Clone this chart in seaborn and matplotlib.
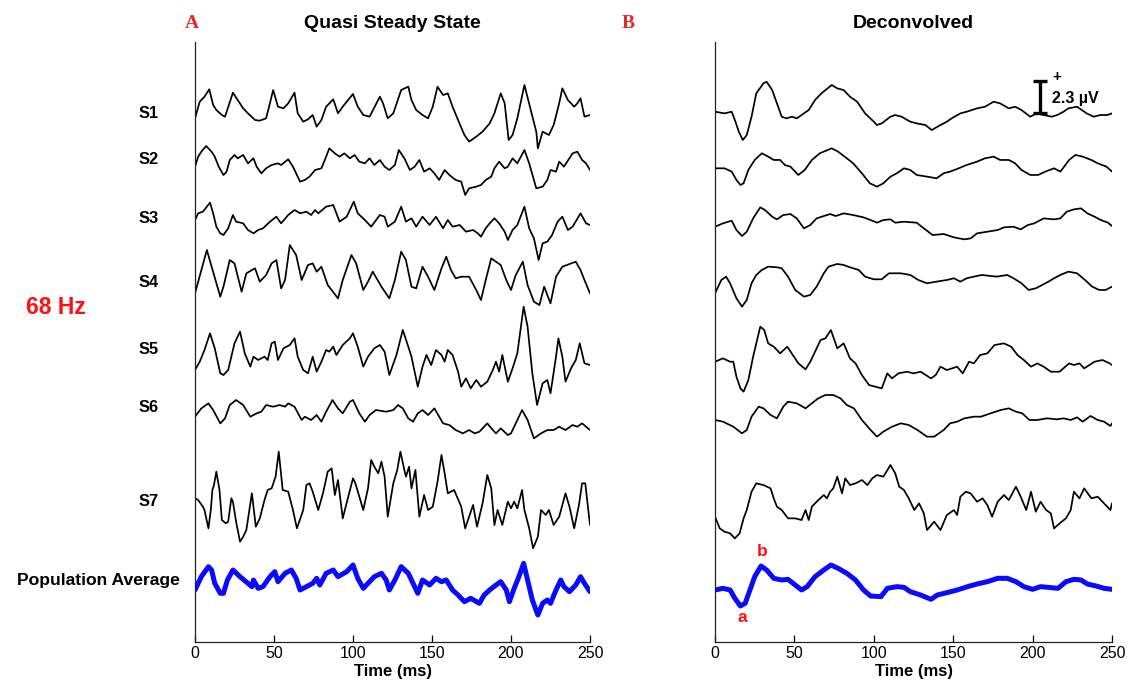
import numpy as np
import pandas as pd
import matplotlib
matplotlib.use("Agg")
import matplotlib.pyplot as plt
import seaborn as sns

# ---------------- data (time in ms, amplitude in arbitrary units; 97 units = 2.3 uV) -------------
# Panel A : Quasi Steady State
qs_s1_t = [0,3,6,9,11.5,13.5,17,19,24,27,30.5,33.5,38,41,45,49.5,52.5,56,59,63,65,68.5,71.5,74.5,77,80,83,87.5,90.5,93.5,
           100,103,106.5,110.5,117,119,122,125.5,130.5,135,137,140,144,147.5,150.5,153.5,157,160,163,166.5,
           170.5,173.5,178,182,186.5,189.5,193.5,196,198.5,201,204,208.5,212.5,216,217,220,224,227,230.5,232.5,
           236,240,242,244,246.5,250]
qs_s1_v = [-10,40,55,77,30,15,0,-5,67,45,20,5,-15,-17,-10,75,25,20,35,67,5,-20,-13,0,-35,-15,25,47,5,25,
           63,25,0,-5,55,35,-10,5,75,85,45,15,0,-10,25,85,60,65,25,-15,
           -60,-80,-65,-50,-25,5,65,35,-75,-60,-10,90,15,-50,-100,-50,-60,-30,35,80,
           45,25,35,50,-5,0]

qs_s2_t = [0,2,4,7,10.5,12.5,15,18,20,22,25,27,30.5,33.5,37,39,42,45,48.5,52.5,54.5,59,62,66.5,69.5,72.5,76,80,83,85,
           88.5,91.5,94.5,98,101,104,107.5,110.5,113.5,117,120,123,126.5,129,132.5,136,139,142,145,148.5,
           151.5,154.5,158,161,165,168.5,171,173.5,178,181,184,187.5,189.5,192.5,196,198,201,204,208.5,211.5,
           216,220,223,225,228.5,230.5,233.5,239,242,245,247.5,250]
qs_s2_v = [-11,19,34,51,34,19,-11,-36,-26,9,24,14,24,-1,14,-11,-31,-16,-6,-1,-6,11,-11,-56,-51,-41,-21,-16,19,44,
           29,19,29,14,24,4,-1,14,-6,9,-11,-21,-6,39,14,-21,-11,9,-26,-16,
           -31,-51,-21,-36,-51,-56,-96,-76,-71,-66,-51,-41,-16,4,-16,-11,14,-1,39,-1,
           -76,-71,-51,-21,-26,4,-11,29,34,9,-1,-21]

qs_s3_t = [0,2,5,9.5,11.5,13.5,16,18,21,24,26,30.5,33.5,37,40,43,47.5,51.5,54.5,59,63,66.5,70.5,73.5,76,78,83,87.5,91.5,96,
           100.5,103,107.5,111.5,117,120,122,126.5,130.5,133.5,137,140,144,148.5,152.5,157,160,163,167.5,171.5,
           176,179,181,184,186.5,189.5,192.5,196,198,201,204,208.5,211.5,214.5,217.5,220,223,226,229.5,232.5,
           236,239,244,247.5,250]
qs_s3_v = [0,20,25,52,20,-20,-40,-45,-25,15,-5,-10,-30,-40,-30,-25,-5,10,-10,15,30,20,25,15,30,20,40,45,-5,10,
           55,20,0,-20,15,10,-20,-5,40,-5,5,-20,10,-15,10,-25,0,-20,-15,-35,
           -30,-40,-50,-25,-10,5,-10,-35,-60,-30,-15,40,-25,-55,-120,-70,-65,-45,-5,10,
           -30,-20,20,-10,-15]

qs_s4_t = [0,7.5,16,18,22,25,29.5,32.5,36,38,41,45,48.5,51.5,54.5,57,60,64,67.5,71.5,74.5,77,80,84,90.5,93.5,99,102,106.5,109.5,
           112.5,118,123,126.5,130.5,133.5,137,140,144,147.5,151.5,156,159,162,165,168.5,173.5,178,181,184,
           187.5,190.5,193.5,197,200,203,207.5,210.5,214.5,218,221,225,228.5,232.5,241,244,246.5,250]
qs_s4_v = [-50,80,-60,-30,50,40,-45,10,20,25,-15,5,40,50,-35,-10,95,65,-10,35,40,15,30,-25,-65,-10,65,40,-40,-15,
           15,-30,-65,-10,75,50,-30,-35,30,0,-40,25,60,20,-5,0,0,-40,-70,-10,
           55,45,35,-10,-40,5,45,-25,-75,-85,-30,-80,0,30,45,20,-10,-50]

qs_s5_t = [0,3,6,9.5,12.5,16,18,21,25,28.5,31.5,35,37,40,44,46,48.5,50.5,52.5,56,60,63,65,68.5,71.5,74.5,77,80,83,85,
           87.5,89.5,93.5,98,100,103,106.5,109.5,113.5,117,120,123,127.5,131.5,135,137,141,144,146.5,149.5,
           152.5,156,158,160,163,166.5,168.5,171.5,174.5,178,181,185,188.5,190.5,192.5,194.5,198,201,204,208,
           210.5,213.5,216.5,220,223,225,228.5,230,232.5,234.5,238,241,243.5,246.5,250]
qs_s5_v = [0,25,60,110,65,-10,-15,0,80,115,50,10,40,30,40,30,80,85,30,65,75,95,40,0,-10,40,-5,25,60,55,
           70,45,75,95,110,70,10,40,65,75,55,-15,45,120,70,40,-50,10,45,15,
           60,45,25,60,45,-5,-50,-25,-55,-30,-50,-35,0,25,-5,45,-35,5,50,190,
           130,-10,-105,-40,-30,-70,40,95,40,-35,5,30,80,20,15]

qs_s6_t = [0,4,8.5,11.5,16,19,22,26,30.5,35,39,42,45,49.5,53.5,57,59,63,67.5,69.5,73.5,77,80,83,87,90.5,93.5,98,100,104,
           107.5,110.5,114.5,121,125.5,128.5,131.5,135,138,141,144,147.5,151.5,157,161,165,169.5,173.5,177,180,
           185,188.5,190.5,193.5,198,200,204,207,210.5,214.5,219,223,227,230.5,234.5,239,242,245,250]
qs_s6_v = [0,25,40,20,-20,-5,35,50,35,0,10,15,35,30,35,30,40,30,-10,0,-10,5,-15,15,50,25,10,45,50,10,
           -15,5,20,15,20,35,25,-5,-15,10,20,5,25,-20,-25,-40,-50,-40,-50,-45,
           -20,-40,-50,-35,-55,-50,-10,20,-10,-65,-50,-40,-40,-30,-40,-25,-30,-20,-40]

qs_s7_t = [0,2,5,6,8.5,10,11,12,13.5,15.5,17,19.5,21,23,24,26,28.5,30.5,32.5,36,38.5,41,44,46,48.5,51,53,55.5,59,62,
           64.5,68.5,70.5,72.5,74.5,78,81,84,86.5,88.5,90.5,93.5,97,100,101.5,106.5,109.5,111.5,113.5,116,
           118,120,122,125.5,128,130,132.5,133.5,135.5,137,139.5,142,145,147.5,150.5,153.5,156,158,160,164,
           168.5,171,173.5,176,178.5,182,185,187.5,189.5,191.5,194.5,198,200,202,204,207,208.5,211.5,214,217,
           219,222,224,227,230.5,234.5,237,240,243,245,247,250]
qs_s7_v = [5,0,-20,-30,-85,-30,30,45,85,30,-60,-70,-65,5,-5,-65,-125,-110,-90,20,-80,-55,0,30,35,70,145,30,25,-30,
           -85,-30,45,50,25,-30,20,85,95,15,60,-55,10,65,50,-30,35,120,100,80,
           115,70,-50,50,90,145,90,70,100,35,90,-50,15,-30,-20,55,135,80,20,30,
           -20,-85,-50,-15,-80,-10,75,35,-75,-30,-75,-5,-25,-5,-25,30,-30,-85,-145,-110,
           -30,-45,-30,-75,-50,20,-20,-85,-15,50,50,-75]

qs_avg_t = [0,4,8.5,10.5,12.5,16,18,20.5,24,28.5,33.5,36,37,40,43,47.5,50.5,52.5,57,61,64,66.5,70.5,74.5,77,79,83,87.5,90.5,96,
            100,103,106.5,109.5,113.5,118,121,123,126.5,130.5,135,138,141,144,148.5,152.5,156,159,163,166.5,
            170.5,174.5,180,183,186.5,190.5,193.5,197,199,202,205,208,210.5,213.5,217,220,223,225,228.5,231.5,
            233.5,237,241,244,246.5,250]
qs_avg_v = [0,40,70,60,20,-10,-10,30,60,40,20,10,30,5,10,40,55,25,50,60,35,0,10,20,35,15,50,60,40,55,
            75,35,5,20,40,50,30,0,30,70,50,20,-10,30,15,35,25,30,0,-15,
            -35,-25,-40,-15,0,15,25,0,-35,5,40,80,30,-30,-75,-40,-30,-40,0,30,
            10,-5,15,40,20,-5]

# Panel B : Deconvolved
dc_s1_t = [0,6,10.5,12.5,15,17.5,20,23,26,30.5,32.5,36,39,42,45,48.5,51.5,56,59,63,67,73.5,77,81,85,89.5,94.5,100,102,105,
           110.5,113.5,117.5,123,127,132.5,136.5,142,146,149,154.5,158.5,165,170,175.5,179.5,185,189,193,198.5,
           202.5,207,212,215.5,219.5,222.5,228,234,238.5,242.5,247,250]
dc_s1_v = [0,-5,0,-25,-60,-85,-70,-15,55,85,90,65,25,-15,-20,-15,-20,-5,5,35,55,80,70,65,45,30,-5,-30,-40,-35,
           -15,-10,-15,-30,-35,-40,-55,-40,-30,-20,-5,0,10,15,30,25,10,15,5,-15,
           -5,-10,-15,-10,0,10,15,-5,-15,-10,-10,-5]

dc_s2_t = [0,6,10.5,13.5,16,18,21,25,29.5,33.5,37,41,44,47.5,52.5,56.5,61,66,73.5,77.5,83,87,92.5,97.5,102,106,110.5,114.5,119,123,
           127,133.5,139.5,144,148,153.5,158.5,165,170,175.5,179.5,185,189,193,198.5,203.5,208,213.5,217.5,223,
           227,231.5,237,241,246.5,250]
dc_s2_v = [0,0,-10,-35,-50,-45,-5,25,45,35,25,25,10,5,-20,-5,25,45,60,50,30,15,-15,-45,-55,-45,-25,-15,0,-5,
           -20,-25,-30,-15,-10,0,10,20,30,35,25,25,15,-5,-20,-20,-10,0,-10,25,
           40,35,25,15,5,-10]

dc_s3_t = [0,5,10.5,13.5,17,20,24,28.5,31.5,36,39,43,47.5,51.5,56,60,64,68.5,72.5,76,81,87,93.5,98,102,106,110.5,113.5,119,127,
           131.5,137,144,150.5,157,161,165,171.5,178,182,188,192.5,197,201,207,213.5,217.5,221.5,226,230.5,
           234.5,239,243,247.5,250]
dc_s3_v = [0,10,18,-10,-28,-15,25,58,50,30,22,35,38,25,-5,5,25,32,38,32,40,35,28,20,12,20,22,12,15,12,
           -5,-25,-22,-32,-38,-35,-20,-15,-10,-2,0,-8,5,10,25,22,25,45,52,55,
           40,30,20,12,2]

dc_s4_t = [0,4,7,9.5,13.5,17,20,23,26,29.5,33.5,39,42,46,50.5,56,60,64,68.5,71.5,77,81,85,90.5,94.5,100,105,109.5,117,123,
           128,133.5,139.5,146,150.5,154.5,158.5,163,168,173.5,177.5,184,188,193,197.5,202,206,210,213.5,217.5,
           222.5,228,233,237.5,242,246,250]
dc_s4_v = [0,40,50,30,-15,-40,-20,30,55,70,80,78,75,50,10,-10,-5,20,60,80,88,85,78,70,50,42,42,60,60,55,
           40,30,35,40,45,35,45,50,55,52,50,55,45,30,10,15,25,35,45,55,
           65,60,40,20,10,10,20]

dc_s5_t = [0,5,9.5,11.5,13.5,16,18,21,24,28.5,31,33.5,37,41,45.5,49,52.5,57,60,64,66.5,69.5,73,77,81,85,88.5,92.5,97,101,
           105,108.5,111.5,115.5,121,125,129.5,136,139,142,146,152.5,156,160,163,167,171.5,176,182,186.5,
           190.5,194.5,199,203,207,211.5,217,223,226,229.5,232.5,239,244,248.5,250]
dc_s5_v = [0,10,0,0,-45,-80,-90,-55,15,105,95,55,45,25,45,20,-5,-23,0,40,65,70,95,40,55,10,-5,-40,-70,-75,
           -80,-35,-50,-35,-30,-35,-30,-50,-40,-15,-25,-15,-35,0,-5,20,25,50,55,45,
           20,5,-15,-5,-15,-30,-30,-5,-10,-5,-20,0,5,-5,-10]

dc_s6_t = [0,5,11.5,17,20,23,27.5,30.5,35,39,43,46,51.5,57,61,65,69.5,74.5,79,83,87.5,92.5,98,102,106,111.5,117,122,127.5,133.5,
           138,144,148,152.5,157,163,167.5,173.5,180,185,189.5,193.5,198,203,209,215.5,219.5,224,228,231.5,
           236.5,241,245,249,250]
dc_s6_v = [0,-5,-20,-40,-30,10,40,35,15,5,40,55,50,35,50,65,75,75,65,45,35,0,-30,-50,-35,-20,-10,-15,-30,-50,
           -50,-30,-10,-5,5,10,10,20,30,35,25,20,0,0,5,2,5,0,8,-5,
           12,0,-5,-18,-10]

dc_s7_t = [0,3,6,9.5,12.5,15.5,18,20,23,26,30.5,35,37,39,42,46,50.5,54.5,57,59,61,64,68.5,70.5,72.5,74.5,77,80,82,85,
           88.5,92.5,96,99,102,106,110.5,113.5,116,119,122,125.5,128.5,131.5,133.5,138,142,146,150.5,152.5,
           154.5,158,161,165,168.5,171.5,174.5,178,182,185,189.5,192.5,196,199,202,205,208.5,211.5,213.5,217,
           221,224,226,229.5,232.5,237,241,245,249,250]
dc_s7_v = [0,-35,-45,-50,-65,-50,-5,20,75,100,95,85,55,30,20,-5,-5,-10,20,-10,30,45,65,55,75,85,120,70,115,95,
           100,110,95,115,125,120,155,130,90,80,55,20,40,10,-40,-15,-40,5,20,5,
           60,75,70,45,55,35,0,45,65,50,90,60,20,75,15,45,20,10,-35,-20,
           -5,20,75,55,85,55,60,40,20,40]

dc_avg_t = [0,5,9.5,12.5,16,19,22,25,29,32.5,37,42,46,50.5,54.5,58,63,68.5,73,77.5,83,88.5,93.5,98,104.5,108.5,114.5,119,123,129.5,
            136,140,146,152.5,159,165,171.5,178,184,189.5,194.5,200,205,209.5,216,221,226,230.5,234.5,240,
            245,250]
dc_avg_v = [0,5,0,-25,-48,-40,0,40,72,60,35,30,32,15,0,10,40,60,75,65,50,30,0,-18,-20,5,10,8,-5,-15,
            -28,-15,-8,0,10,18,25,35,35,25,10,2,10,8,5,25,32,30,18,12,
            5,2]

subjects = ["S1", "S2", "S3", "S4", "S5", "S6", "S7", "Population Average"]
xticks = [0, 50, 100, 150, 200, 250]
panel_titles = ["Quasi Steady State", "Deconvolved"]
panel_letters = ["A", "B"]
scale_label = "2.3 \u00b5V"
scale_uv_units = 97          # amplitude units spanned by the 2.3 uV bar

# ---------------- layout --------------------------------------------------------------------
W, H = 1133, 683
GAIN = 1 / 3.0               # pixels per amplitude unit
base_A = [115, 163, 220, 276.7, 370, 416.7, 500, 590]
base_B = [111.7, 168.3, 226.7, 293.3, 361.7, 420, 516.7, 590]

sns.set_theme(style="ticks")
plt.rcParams["font.family"] = ["Liberation Sans", "DejaVu Sans"]
plt.rcParams["text.color"] = "black"
plt.rcParams["axes.labelcolor"] = "black"
plt.rcParams["xtick.color"] = "black"
plt.rcParams["ytick.color"] = "black"

fig = plt.figure(figsize=(W / 100, H / 100), dpi=100)
ax_top, ax_bot = 42, 642
axA = fig.add_axes([195 / W, 1 - ax_bot / H, 395 / W, (ax_bot - ax_top) / H])
axB = fig.add_axes([715 / W, 1 - ax_bot / H, 397 / W, (ax_bot - ax_top) / H])

traces_A = [(qs_s1_t, qs_s1_v), (qs_s2_t, qs_s2_v), (qs_s3_t, qs_s3_v), (qs_s4_t, qs_s4_v),
            (qs_s5_t, qs_s5_v), (qs_s6_t, qs_s6_v), (qs_s7_t, qs_s7_v), (qs_avg_t, qs_avg_v)]
traces_B = [(dc_s1_t, dc_s1_v), (dc_s2_t, dc_s2_v), (dc_s3_t, dc_s3_v), (dc_s4_t, dc_s4_v),
            (dc_s5_t, dc_s5_v), (dc_s6_t, dc_s6_v), (dc_s7_t, dc_s7_v), (dc_avg_t, dc_avg_v)]

for ax, traces, bases in [(axA, traces_A, base_A), (axB, traces_B, base_B)]:
    for i, ((t, v), b) in enumerate(zip(traces, bases)):
        assert len(t) == len(v), (subjects[i], len(t), len(v))
        df = pd.DataFrame({"t": t, "y": -b + np.asarray(v) * GAIN})
        is_avg = i == len(traces) - 1
        sns.lineplot(data=df, x="t", y="y", ax=ax, sort=False, estimator=None,
                     color="#0a0aff" if is_avg else "black",
                     linewidth=3.6 if is_avg else 1.25)
    ax.set_xlim(0, 250)
    ax.set_ylim(-ax_bot, -ax_top)
    ax.set_xticks(xticks)
    ax.set_xticklabels([str(x) for x in xticks], fontsize=11.5)
    ax.set_yticks([])
    ax.set_xlabel("Time (ms)", fontsize=12, fontweight="bold", labelpad=2)
    ax.set_ylabel("")
    ax.tick_params(axis="x", direction="in", length=5, width=0.9, pad=3, colors="black")
    for s in ["top", "right"]:
        ax.spines[s].set_visible(False)
    for s in ["left", "bottom"]:
        ax.spines[s].set_color("#222222")
        ax.spines[s].set_linewidth(0.9)
    ax.set_facecolor("white")

# titles
fig.text(392 / W, 1 - 24 / H, panel_titles[0], ha="center", va="center", fontsize=14, fontweight="bold")
fig.text(913 / W, 1 - 24 / H, panel_titles[1], ha="center", va="center", fontsize=14, fontweight="bold")
fig.text(192 / W, 1 - 23 / H, panel_letters[0], ha="center", va="center", fontsize=14,
         fontweight="bold", color="#e8262b", family=["Liberation Serif", "DejaVu Serif"])
fig.text(628 / W, 1 - 23 / H, panel_letters[1], ha="center", va="center", fontsize=14,
         fontweight="bold", color="#e8262b", family=["Liberation Serif", "DejaVu Serif"])

# subject labels
label_y = [113, 159, 218, 282, 349, 408, 501, 580]
for name, yy in zip(subjects, label_y):
    if name.startswith("S"):
        fig.text(149 / W, 1 - yy / H, name, ha="center", va="center", fontsize=11.8, fontweight="bold")
    else:
        fig.text(98 / W, 1 - yy / H, name, ha="center", va="center", fontsize=12.6, fontweight="bold")
fig.text(56 / W, 1 - 308 / H, "68 Hz", ha="center", va="center", fontsize=16.5, fontweight="bold", color="#ff1010")

# peak labels a / b
fig.text(742 / W, 1 - 617 / H, "a", ha="center", va="center", fontsize=12.5, fontweight="bold", color="#ff1010")
fig.text(762 / W, 1 - 551 / H, "b", ha="center", va="center", fontsize=12.5, fontweight="bold", color="#ff1010")

# scale bar (2.3 uV) in panel B
bar_t = 204.7
bar_top = -80.7
bar_bot = bar_top - scale_uv_units * GAIN
axB.plot([bar_t, bar_t], [bar_bot, bar_top], color="black", lw=2.4, solid_capstyle="butt")
axB.plot([bar_t - 4.4, bar_t + 4.4], [bar_top, bar_top], color="black", lw=2.4, solid_capstyle="butt")
axB.plot([bar_t - 4.4, bar_t + 4.4], [bar_bot, bar_bot], color="black", lw=2.4, solid_capstyle="butt")
fig.text(1057 / W, 1 - 77 / H, "+", ha="center", va="center", fontsize=11, fontweight="bold")
fig.text(1052 / W, 1 - 98 / H, scale_label, ha="left", va="center", fontsize=11.5, fontweight="bold")

fig.savefig("out.png", dpi=100, facecolor="white")
